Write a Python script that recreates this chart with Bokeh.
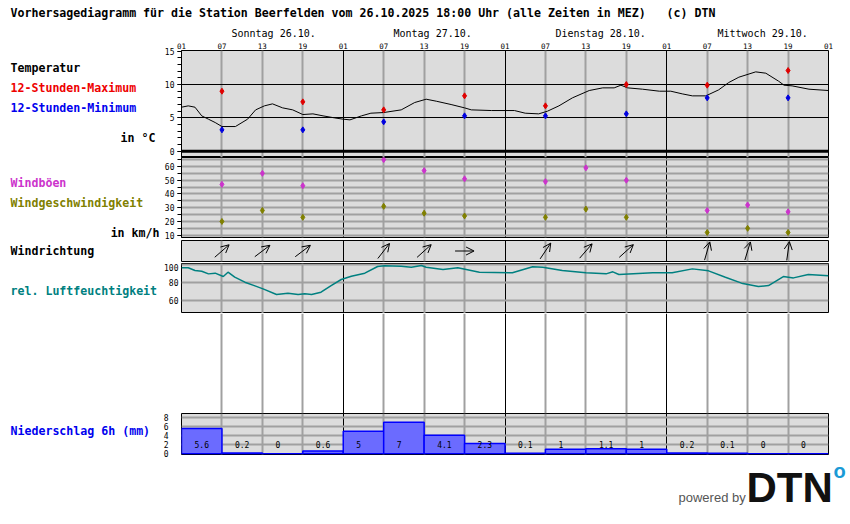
import math
from bokeh.plotting import figure
from bokeh.models import (Range1d, FixedTicker, Grid, Span, Label, Arrow, OpenHead,
                          ColumnDataSource, LinearAxis)
from bokeh.layouts import column, row
from bokeh.embed import file_html
from bokeh.resources import INLINE
from bokeh.core.properties import value

# ---------------- data ----------------
title_text = ("Vorhersagediagramm für die Station Beerfelden vom 26.10.2025 18:00 Uhr "
              "(alle Zeiten in MEZ)\u00a0\u00a0\u00a0(c) DTN")
day_names = ["Sonntag 26.10.", "Montag 27.10.", "Dienstag 28.10.", "Mittwoch 29.10."]
day_start_hours = [0, 24, 48, 72]
tick_hours = [0, 6, 12, 18, 24, 30, 36, 42, 48, 54, 60, 66, 72, 78, 84, 90, 96]
tick_labels = ["01", "07", "13", "19", "01", "07", "13", "19", "01", "07", "13", "19",
               "01", "07", "13", "19", "01"]

temp_hours = [0, 1, 2, 3, 4, 5, 6, 8, 9.8, 11, 12.3, 13.5, 15, 16.5, 18, 19.5, 21, 22.7,
              24, 25, 26.7, 28.1, 30, 32.6, 34.6, 36.3, 37.8, 40, 42, 43, 46, 49.4, 51, 53,
              54.3, 56, 58, 60.5, 62.5, 64.2, 65.2, 66.2, 68.4, 70.9, 72.6, 74.3, 75.8,
              77.8, 79.7, 81.2, 82.7, 85.2, 86.7, 88.6, 89.4, 90.6, 93.1, 96]
temp_values = [6.6, 6.8, 6.6, 5.3, 4.8, 4.3, 3.7, 3.7, 4.8, 6.2, 6.8, 7.1, 6.5, 6.2, 5.5,
               5.6, 5.3, 5.0, 4.8, 4.7, 5.3, 5.7, 5.8, 6.2, 7.3, 7.8, 7.5, 7.0, 6.5, 6.2,
               6.1, 6.1, 5.7, 5.6, 6.0, 6.8, 8.0, 9.1, 9.5, 9.5, 9.9, 9.5, 9.3, 9.0, 9.0,
               8.6, 8.3, 8.3, 9.2, 10.3, 11.1, 11.9, 11.7, 10.5, 9.9, 9.8, 9.3, 9.1]
extreme_hours = [6, 18, 30, 42, 54, 66, 78, 90]
temp_max = [9.0, 7.4, 6.2, 8.3, 6.8, 10.0, 9.9, 12.1]
temp_min = [3.2, 3.2, 4.4, 5.3, 5.3, 5.6, 8.0, 8.0]

wind_hours = [6, 12, 18, 30, 36, 42, 54, 60, 66, 78, 84, 90]
wind_gusts = [47, 55, 46, 65, 57, 51, 49, 59, 50, 28, 32, 27]
wind_speed = [20, 28, 23, 31, 26, 24, 23, 29, 23, 12, 15, 12]
wind_dir = [229, 233, 233, 218, 228, 270, 214, 221, 228, 196, 197, 188]

hum_hours = [0, 1, 2, 3, 4, 5, 6.2, 6.9, 7.9, 9.4, 10.9, 12.1, 14.1, 15.8, 17.3, 18.3,
             19.3, 20.7, 22.2, 23.7, 25.2, 27.2, 29.1, 30.1, 32.6, 34.1, 35.6, 36.3, 38.8,
             41, 44.2, 49.1, 52.1, 53.6, 56.5, 60, 63, 64, 64.9, 69.9, 72.8, 75.8, 78.2,
             80.7, 83.1, 85.6, 87.1, 89.3, 90.8, 93, 96]
hum_values = [96.3, 96.3, 93.3, 92.5, 89.5, 90.3, 86.5, 91.4, 85.8, 80.2, 76.1, 72.7, 66.4,
              67.9, 66.4, 67.1, 66.4, 69.0, 76.4, 83.2, 86.9, 90.3, 97.8, 98.5, 98.1, 97.0,
              98.9, 97.0, 94.4, 96.3, 91.4, 90.7, 97.4, 97.0, 93.3, 90.7, 89.5, 91.8, 88.8,
              90.7, 90.7, 95.1, 92.9, 85.8, 79.1, 75.3, 76.4, 86.5, 85.0, 88.8, 87.3]

precip_start_hours = [0, 6, 12, 18, 24, 30, 36, 42, 48, 54, 60, 66, 72, 78, 84, 90]
precip_mm = [5.6, 0.2, 0, 0.6, 5, 7, 4.1, 2.3, 0.1, 1, 1.1, 1, 0.2, 0.1, 0, 0]
precip_labels = ["5.6", "0.2", "0", "0.6", "5", "7", "4.1", "2.3", "0.1", "1", "1.1", "1",
                 "0.2", "0.1", "0", "0"]

temp_ticks = [0, 5, 10, 15]
wind_ticks = [10, 20, 30, 40, 50, 60]
hum_ticks = [60, 80, 100]
precip_ticks = [0, 2, 4, 6, 8]

# ---------------- style / layout ----------------
MONO = "DejaVu Sans Mono"
BG = "#dcdcdc"
GRID_GREY = "#a0a0a0"
PAGE_W = 850
LEFT_W = 160           # width of the text column on the left
PANEL_W = PAGE_W - LEFT_W
BORDER_L = 20          # axis border -> plot frame starts at x=180
FRAME_W = 648
BORDER_R = PANEL_W - BORDER_L - FRAME_W
PX_PER_H = FRAME_W / 96.0
X0 = LEFT_W + BORDER_L  # page x of hour 0

xr = Range1d(0, 96)
xr_full = Range1d(-X0 / PX_PER_H, (PAGE_W - X0) / PX_PER_H)


def yrange(ref_val, ref_px, ppu, ftop, fbot):
    return Range1d(ref_val - (fbot - ref_px) / ppu, ref_val + (ref_px - ftop) / ppu)


def make_fig(height, btop, bbot, y_range, bg=BG, outline="black"):
    p = figure(width=PANEL_W, height=height, x_range=xr, y_range=y_range,
               output_backend="svg", toolbar_location=None,
               min_border_left=BORDER_L, min_border_right=BORDER_R,
               min_border_top=btop, min_border_bottom=bbot,
               x_axis_location=None, y_axis_location=None,
               background_fill_color=bg, border_fill_color="white",
               outline_line_color=outline, outline_line_width=1)
    p.grid.visible = False
    six = [h for h in tick_hours if h % 24 != 0]
    days = [h for h in tick_hours if h % 24 == 0]
    p.add_layout(Grid(dimension=0, ticker=FixedTicker(ticks=six),
                      grid_line_color=GRID_GREY, grid_line_width=2))
    p.add_layout(Grid(dimension=0, ticker=FixedTicker(ticks=days),
                      grid_line_color="black", grid_line_width=1))
    return p


def blank_fig(width, height, x_range, y_range):
    p = figure(width=width, height=height, x_range=x_range, y_range=y_range,
               output_backend="svg", toolbar_location=None,
               min_border_left=0, min_border_right=0, min_border_top=0, min_border_bottom=0,
               x_axis_location=None, y_axis_location=None,
               background_fill_color="white", border_fill_color="white",
               outline_line_color=None)
    p.grid.visible = False
    return p


def add_text(p, x, y, text, color="black", size="11.6px", bold=True, font=MONO,
             align="left", x_units="data"):
    p.add_layout(Label(x=x, y=y, x_units=x_units, y_units="data",
                       text=text, text_color=color, text_font_size=size,
                       text_font=font, text_font_style="bold" if bold else "normal",
                       text_baseline="middle", text_align=align))


def left_axis(ticks, minor=None, tick_len=4, standoff=3):
    ax = LinearAxis(ticker=FixedTicker(ticks=ticks, minor_ticks=minor or []),
                    major_tick_in=0, major_tick_out=tick_len,
                    minor_tick_in=0, minor_tick_out=tick_len,
                    major_label_standoff=standoff,
                    major_label_text_font=MONO, major_label_text_font_size="8px",
                    major_label_text_color="black",
                    axis_line_color="black", major_tick_line_color="black",
                    minor_tick_line_color="black")
    if tick_len == 0:
        ax.major_tick_line_color = None
        ax.minor_tick_line_color = None
        ax.axis_line_color = None
    return ax


# ---- header: title and day names (page y 0..39) ----
HEAD_H = 39
head = blank_fig(PAGE_W, HEAD_H, xr_full, Range1d(HEAD_H, 0))
add_text(head, 10, 12, title_text, x_units="screen")
head.text(x=day_start_hours, y=[33] * len(day_start_hours), text=day_names, x_offset=51,
          text_font=value(MONO), text_font_size="10px", text_color="black",
          text_baseline="middle", text_align="left")

# ---- panel 1: temperature (page y 39..157, frame 50..157) ----
p1 = make_fig(118, 11, 0, yrange(0, 150.7, 6.667, 50, 157))
p1.add_layout(Grid(dimension=1, ticker=FixedTicker(ticks=[5, 10]),
                   grid_line_color="black", grid_line_width=1))
p1.add_layout(Span(location=0, dimension="width", line_color="black", line_width=3))
p1.add_layout(left_axis(temp_ticks, list(range(0, 16))), "left")
top_axis = LinearAxis(ticker=FixedTicker(ticks=tick_hours),
                      major_label_overrides={h: l for h, l in zip(tick_hours, tick_labels)},
                      major_tick_in=0, major_tick_out=0, axis_line_color=None,
                      major_tick_line_color=None, minor_tick_line_color=None,
                      major_label_standoff=2, major_label_text_font=MONO,
                      major_label_text_font_size="7.5px", major_label_text_color="black")
p1.add_layout(top_axis, "above")
p1.line(temp_hours, temp_values, line_color="black", line_width=1)
p1.scatter(extreme_hours, temp_max, marker="diamond", size=6, color="#e00000")
p1.scatter(extreme_hours, temp_min, marker="diamond", size=6, color="#0000e0")

# ---- panel 2: wind speed / gusts (page y 157..240, frame 157..237) ----
p2 = make_fig(83, 0, 3, yrange(60, 166, 1.374, 157, 237))
p2.add_layout(Grid(dimension=1, ticker=FixedTicker(ticks=list(range(10, 70, 5))),
                   grid_line_color=GRID_GREY, grid_line_width=2))
p2.add_layout(left_axis(wind_ticks, list(range(10, 70, 5))), "left")
p2.scatter(wind_hours, wind_gusts, marker="diamond", size=6, color="#cc33cc")
p2.scatter(wind_hours, wind_speed, marker="diamond", size=6, color="#808000")

# ---- panel 3: wind direction (page y 240..263, frame 240..261) ----
p3 = make_fig(23, 0, 2, Range1d(-10.5, 10.5))
half = 9.5
xs, ys, xe, ye = [], [], [], []
for h, d in zip(wind_hours, wind_dir):
    r = math.radians(d)
    xs.append(h + math.sin(r) * half / PX_PER_H)
    ys.append(math.cos(r) * half)
    xe.append(h - math.sin(r) * half / PX_PER_H)
    ye.append(-math.cos(r) * half)
arr_src = ColumnDataSource(dict(xs=xs, ys=ys, xe=xe, ye=ye))
p3.add_layout(Arrow(x_start="xs", y_start="ys", x_end="xe", y_end="ye", source=arr_src,
                    line_color="black", line_width=1,
                    end=OpenHead(size=8, line_color="black", line_width=1)))

# ---- panel 4: humidity (page y 263..313) ----
p4 = make_fig(50, 0, 0, yrange(100, 264, 0.8925, 263, 313))
p4.add_layout(Grid(dimension=1, ticker=FixedTicker(ticks=hum_ticks),
                   grid_line_color=GRID_GREY, grid_line_width=2))
p4.add_layout(left_axis(hum_ticks, tick_len=0, standoff=3), "left")
p4.line(hum_hours, hum_values, line_color="#008080", line_width=1.5)

# ---- panel 5: empty white area (page y 313..413) ----
p5 = make_fig(100, 0, 0, Range1d(0, 1), bg="white", outline=None)

# ---- panel 6: precipitation (page y 413..458, frame 413..454) ----
p6 = make_fig(45, 0, 4, yrange(0, 453.3, 4.5, 413, 454))
p6.add_layout(Grid(dimension=1, ticker=FixedTicker(ticks=precip_ticks[1:]),
                   grid_line_color=GRID_GREY, grid_line_width=2))
p6.add_layout(left_axis(precip_ticks, tick_len=0, standoff=13), "left")
psrc = ColumnDataSource(dict(left=precip_start_hours,
                             right=[h + 6 for h in precip_start_hours],
                             top=precip_mm, bottom=[0] * len(precip_mm),
                             lab=precip_labels, ly=[2] * len(precip_mm)))
p6.quad(left="left", right="right", top="top", bottom="bottom", source=psrc,
        fill_color="#6b6bff", line_color="#0000ff", line_width=1.5)
p6.text(x="left", y="ly", text="lab", source=psrc, x_offset=13,
        text_font=value(MONO), text_font_size="8px", text_color="black",
        text_baseline="middle", text_align="left")

# ---- left text column (page x 0..160, page y 39..458) ----
MID_TOP, MID_BOT = 39, 458
left = blank_fig(LEFT_W, MID_BOT - MID_TOP, Range1d(0, LEFT_W), Range1d(MID_BOT, MID_TOP))
add_text(left, 10, 67, "Temperatur")
add_text(left, 10, 87, "12-Stunden-Maximum", color="#ee0000")
add_text(left, 10, 107, "12-Stunden-Minimum", color="#0000ee")
add_text(left, 120, 137, "in °C")
add_text(left, 10, 182, "Windböen", color="#cc33cc")
add_text(left, 10, 202, "Windgeschwindigkeit", color="#808000")
add_text(left, 159, 232, "in km/h", align="right")
add_text(left, 10, 250, "Windrichtung")
add_text(left, 10, 290, "rel. Luftfeuchtigkeit", color="#008080")
add_text(left, 10, 430, "Niederschlag 6h (mm)", color="#0000ee")

# ---- footer with logo (page y 458..524) ----
FOOT_TOP, FOOT_BOT = 458, 524
foot = blank_fig(PAGE_W, FOOT_BOT - FOOT_TOP, Range1d(0, PAGE_W), Range1d(FOOT_BOT, FOOT_TOP))
add_text(foot, 678, 497, "powered by", color="#555555", size="13px", bold=False,
         font="Liberation Sans")
add_text(foot, 746, 487, "DTN", color="#111111", size="42px", bold=True,
         font="Liberation Sans")
add_text(foot, 839, 470, "o", color="#1a9ad6", size="20px", bold=True,
         font="Liberation Sans", align="center")

middle = row(left, column(p1, p2, p3, p4, p5, p6, spacing=0), spacing=0)
layout = column(head, middle, foot, spacing=0)
open("out.html", "w").write(file_html(layout, INLINE))
